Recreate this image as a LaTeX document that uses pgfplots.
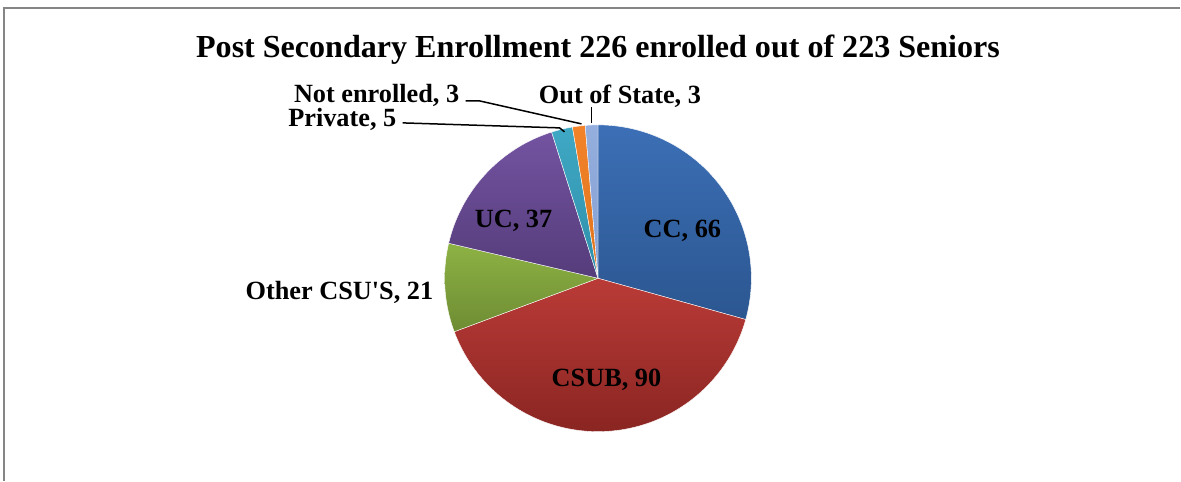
\documentclass[border=0pt]{standalone}
\usepackage{fontspec}
\setmainfont{Liberation Serif}
\usepackage{pgfplots}
\pgfplotsset{compat=1.18}

\definecolor{ccT}{HTML}{3C6FB6}\definecolor{ccB}{HTML}{2B5690}
\definecolor{csT}{HTML}{BA3B37}\definecolor{csB}{HTML}{8A2522}
\definecolor{grT}{HTML}{8DB244}\definecolor{grB}{HTML}{6E8C33}
\definecolor{puT}{HTML}{7353A1}\definecolor{puB}{HTML}{553C7A}
\definecolor{teT}{HTML}{3FA8C4}\definecolor{teB}{HTML}{2F8FAA}
\definecolor{orT}{HTML}{F2832A}\definecolor{orB}{HTML}{E0731C}
\definecolor{lbT}{HTML}{94AEDD}\definecolor{lbB}{HTML}{839FD2}
\definecolor{frame}{HTML}{858585}

% one wedge: #1 count before it, #2 its count, #3/#4 gradient colours
% 225 enrolled in total -> 1.6 degrees per student
\newcommand\slice[4]{%
  \pgfmathsetmacro\angA{90-1.6*(#1+#2)}%
  \pgfmathsetmacro\angB{90-1.6*#1}%
  \addplot[draw=white, line width=0.2pt, top color=#3, bottom color=#4,
    domain=\angA:\angB, samples=80]
    ({598.5+153.5*cos(x)}, {202.5+153.5*sin(x)}) -- (axis cs:598.5,202.5) -- cycle;
}

\begin{document}
\begin{tikzpicture}
\begin{axis}[width=590.5bp, height=240.5bp, scale only axis,
  xmin=0, xmax=1181, ymin=0, ymax=481, hide axis, clip=false]
  \addplot[draw=none, forget plot] coordinates {(0,0) (1181,481)};
  \draw[frame, line width=1bp] (axis cs:4,0) -- (axis cs:4,473) -- (axis cs:1181,473);

  \slice{0}{66}{ccT}{ccB}
  \slice{66}{90}{csT}{csB}
  \slice{156}{21}{grT}{grB}
  \slice{177}{37}{puT}{puB}
  \slice{214}{5}{teT}{teB}
  \slice{219}{3}{orT}{orB}
  \slice{222}{3}{lbT}{lbB}

  \node[anchor=base, font=\fontsize{16.1}{18}\selectfont\bfseries]
    at (axis cs:598.5,423) {Post Secondary Enrollment 226 enrolled out of 223 Seniors};

  \begin{scope}[every node/.style={font=\fontsize{13.2}{15}\selectfont\bfseries, inner sep=0pt}]
    \node[anchor=base] at (axis cs:683,243) {CC, 66};
    \node[anchor=base] at (axis cs:607,94) {CSUB, 90};
    \node[anchor=base] at (axis cs:514,253) {UC, 37};
    \node[anchor=base east] at (axis cs:434,181) {Other CSU\textquotesingle S, 21};
    \node[anchor=base east] at (axis cs:397,354) {Private, 5};
    \node[anchor=base east] at (axis cs:460,378) {Not enrolled, 3};
    \node[anchor=base west] at (axis cs:539,377) {Out of State, 3};
  \end{scope}

  \draw[black, line width=0.75bp] (axis cs:466,380) -- (axis cs:480,380) -- (axis cs:582,357);
  \draw[black, line width=0.75bp] (axis cs:403,358) -- (axis cs:560,353) -- (axis cs:565,349);
  \draw[black, line width=0.75bp] (axis cs:592,374) -- (axis cs:592,358);
\end{axis}
\end{tikzpicture}
\end{document}
